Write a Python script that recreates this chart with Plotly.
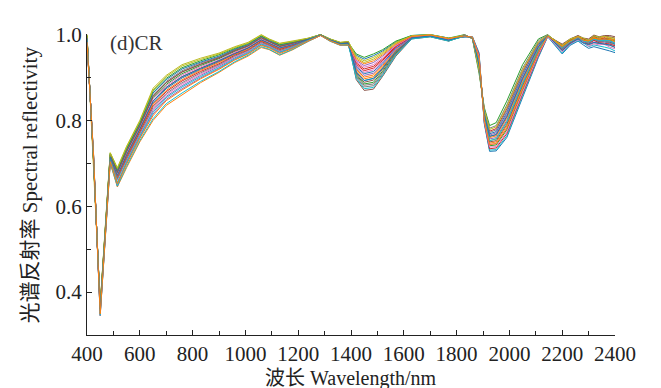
import plotly.graph_objects as go

wavelength = [400, 425, 450, 470, 488, 515, 550, 600, 650, 700, 760, 830, 900, 960, 1010,
              1060, 1090, 1130, 1180, 1240, 1285, 1320, 1360, 1390, 1420, 1450, 1485, 1520,
              1570, 1630, 1700, 1770, 1830, 1860, 1885, 1905, 1925, 1950, 1990, 2050, 2110,
              2145, 2200, 2230, 2260, 2280, 2300, 2320, 2340, 2360, 2380, 2400]

s01 = [.991,.709,.359,.547,.714,.670,.718,.778,.841,.874,.899,.919,.937,.955,.968,.987,.979,.967,.976,.989,.999,.988,.979,.980,
       .952,.943,.951,.962,.983,.998,1.0,.992,
       .995,.995,.958,.792,.728,.729,.760,.854,.947,.995,
       .955,.975,.985,.976,.968,.972,.969,.966,.962,.958]
s02 = [.980,.720,.345,.530,.700,.645,.690,.750,.800,.835,.860,.888,.912,.935,.950,.970,.965,.952,.965,.985,.998,.985,.975,.975,
       .919,.901,.906,.928,.964,.993,.997,.988,
       .997,.993,.943,.804,.747,.750,.787,.878,.961,.997,
       .969,.984,.993,.984,.982,.992,.985,.990,.983,.981]
s03 = [.994,.706,.363,.551,.718,.677,.725,.785,.853,.884,.909,.928,.944,.961,.972,.991,.983,.972,.979,.990,.999,.989,.980,.981,
       .955,.947,.955,.965,.985,.998,1.0,.992,
       1.0,.990,.910,.830,.788,.795,.845,.930,.990,1.0,
       .973,.987,.995,.991,.986,.996,.990,.992,.991,.988]
s04 = [.992,.708,.360,.548,.715,.672,.720,.780,.845,.877,.902,.922,.939,.957,.969,.988,.980,.969,.977,.989,.999,.988,.979,.980,
       .931,.916,.922,.940,.971,.995,.998,.989,
       .999,.991,.920,.822,.775,.781,.827,.914,.981,.999,
       .971,.986,.994,.990,.984,.995,.987,.993,.986,.985]
s05 = [.986,.714,.345,.539,.708,.647,.705,.765,.823,.856,.881,.905,.926,.946,.960,.979,.973,.960,.971,.987,.999,.987,.977,.978,
       .940,.928,.935,.950,.976,.996,.999,.990,
       .998,.993,.935,.810,.757,.760,.800,.890,.968,.998,
       .967,.983,.992,.987,.980,.986,.984,.987,.982,.978]
s06 = [.995,.705,.364,.553,.719,.679,.728,.788,.856,.888,.913,.931,.946,.963,.974,.993,.984,.973,.980,.990,1.0,.989,.980,.982,
       .895,.870,.873,.903,.950,.990,.995,.985,
       .998,.992,.930,.814,.763,.767,.809,.898,.972,.998,
       .976,.989,.997,.990,.988,.997,.993,.996,.995,.992]
s07 = [.993,.707,.361,.550,.716,.674,.723,.783,.849,.881,.906,.925,.941,.959,.971,.990,.981,.970,.978,.990,.999,.988,.980,.981,
       .928,.912,.918,.937,.969,.994,.998,.989,
       .997,.994,.945,.802,.744,.746,.782,.874,.959,.997,
       .964,.981,.990,.986,.978,.983,.981,.984,.978,.974]
s08 = [.996,.704,.365,.554,.720,.681,.730,.790,.860,.891,.916,.934,.948,.965,.976,.994,.985,.974,.981,.991,1.0,.989,.981,.982,
       .901,.878,.881,.909,.954,.991,.996,.986,
       1.0,.991,.915,.826,.782,.788,.836,.922,.986,1.0,
       .962,.980,.989,.980,.976,.981,.979,.977,.975,.971]
s09 = [1.0,.700,.370,.560,.725,.690,.740,.800,.875,.905,.930,.945,.957,.972,.982,1.0,.990,.980,.985,.992,1.0,.990,.982,.984,
       .946,.935,.943,.956,.980,.997,.999,.991,
       .997,.993,.938,.808,.753,.757,.796,.886,.965,.997,
       .969,.984,.993,.988,.982,.988,.986,.986,.985,.981]
s10 = [.981,.719,.346,.532,.701,.647,.693,.753,.804,.839,.864,.891,.914,.937,.952,.972,.966,.953,.966,.985,.998,.985,.975,.975,
       .913,.893,.898,.922,.961,.992,.997,.987,
       .996,.995,.955,.794,.731,.732,.764,.858,.950,.996,
       .957,.977,.986,.981,.972,.976,.974,.971,.968,.962]
s11 = [.997,.703,.366,.556,.721,.683,.733,.793,.864,.895,.920,.936,.950,.966,.977,.996,.986,.976,.982,.991,1.0,.989,.981,.983,
       .925,.909,.914,.934,.968,.994,.998,.989,
       .999,.992,.925,.818,.769,.774,.818,.906,.977,.999,
       .967,.983,.992,.983,.980,.990,.984,.983,.982,.978]
s12 = [.990,.710,.358,.545,.713,.668,.715,.775,.838,.870,.895,.917,.935,.954,.966,.985,.978,.966,.975,.989,.999,.988,.979,.980,
       .916,.897,.902,.925,.962,.993,.997,.987,
       .998,.992,.933,.812,.760,.764,.805,.894,.970,.998,
       .973,.987,.995,.987,.986,.993,.990,.996,.991,.988]
s13 = [.998,.702,.368,.557,.723,.686,.735,.795,.868,.898,.923,.939,.953,.968,.979,.997,.988,.977,.983,.991,1.0,.990,.981,.983,
       .907,.885,.889,.915,.957,.992,.996,.986,
       .996,.994,.948,.800,.741,.743,.778,.870,.956,.996,
       .971,.986,.994,.986,.984,.991,.988,.989,.988,.985]
s14 = [.989,.711,.356,.544,.711,.665,.713,.773,.834,.867,.892,.914,.932,.952,.964,.984,.976,.965,.974,.988,.999,.987,.978,.979,
       .934,.920,.926,.943,.973,.995,.998,.990,
       .996,.994,.953,.796,.734,.736,.769,.862,.952,.996,
       .964,.981,.990,.982,.978,.987,.981,.980,.978,.974]
s15 = [.984,.716,.350,.536,.705,.654,.700,.760,.815,.849,.874,.899,.921,.942,.956,.976,.970,.958,.969,.986,.998,.986,.976,.977,
       .922,.905,.910,.931,.966,.994,.997,.988,
       .998,.992,.928,.816,.766,.771,.814,.902,.974,.998,
       .969,.984,.993,.984,.982,.990,.986,.989,.985,.981]
s16 = [.995,.705,.364,.553,.719,.679,.728,.788,.856,.888,.913,.931,.946,.963,.974,.993,.984,.973,.980,.990,1.0,.989,.980,.982,
       .910,.889,.894,.919,.959,.992,.996,.987,
       .997,.993,.940,.806,.750,.753,.791,.882,.963,.997,
       .978,.990,.998,.992,.990,.999,.995,.998,.998,.995]
s17 = [.987,.713,.354,.541,.709,.661,.708,.768,.826,.860,.885,.908,.928,.948,.961,.981,.974,.962,.972,.987,.999,.987,.977,.978,
       .937,.924,.930,.946,.975,.996,.999,.990,
       .996,.994,.950,.798,.738,.739,.773,.866,.954,.996,
       .960,.978,.988,.983,.973,.979,.976,.978,.971,.967]
s18 = [.988,.712,.355,.542,.710,.663,.710,.770,.830,.863,.888,.911,.930,.950,.963,.982,.975,.963,.973,.988,.999,.987,.978,.979,
       .904,.882,.885,.912,.955,.991,.996,.986,
       .999,.991,.923,.820,.772,.778,.823,.910,.979,.999,
       .966,.984,.991,.986,.979,.989,.983,.986,.980,.977]
s19 = [.999,.701,.369,.559,.724,.688,.738,.798,.871,.902,.927,.942,.955,.970,.980,.999,.989,.979,.984,.992,1.0,.990,.982,.984,
       .949,.939,.947,.959,.982,.997,1.0,.991,
       .999,.991,.918,.824,.779,.785,.832,.918,.983,.999,
       .975,.990,.996,.992,.987,.997,.994,.996,.993,.991]
s20 = [.985,.715,.351,.538,.706,.656,.703,.763,.819,.853,.878,.902,.923,.944,.958,.978,.971,.959,.970,.987,.999,.986,.977,.977,
       .898,.874,.877,.906,.952,.990,.995,.985,
       .997,.993,.938,.808,.753,.757,.796,.886,.965,.997,
       .970,.983,.994,.985,.983,.989,.987,.986,.986,.980]
s21 = [.992,.708,.360,.548,.715,.672,.720,.780,.845,.877,.902,.921,.940,.956,.969,.988,.980,.969,.977,.989,.999,.988,.979,.980,
       .913,.893,.898,.922,.961,.992,.997,.987,
       .998,.992,.930,.814,.763,.767,.809,.898,.972,.998,
       .963,.979,.990,.981,.977,.982,.980,.978,.976,.970]
s22 = [.983,.717,.349,.535,.704,.652,.698,.758,.811,.846,.871,.897,.919,.941,.955,.975,.969,.956,.968,.986,.998,.986,.976,.976,
       .943,.932,.939,.953,.978,.996,.999,.991,
       .997,.994,.945,.802,.744,.746,.782,.874,.959,.997,
       .972,.985,.995,.987,.985,.992,.989,.990,.989,.984]

series = [s01, s02, s03, s04, s05, s06, s07, s08, s09, s10, s11,
          s12, s13, s14, s15, s16, s17, s18, s19, s20, s21, s22]
colors = ["#1f77b4", "#ff7f0e", "#2ca02c", "#d62728", "#9467bd", "#8c564b", "#e377c2",
          "#7f7f7f", "#bcbd22", "#17becf"]

x_ticks = [400, 600, 800, 1000, 1200, 1400, 1600, 1800, 2000, 2200, 2400]
y_ticks = [0.4, 0.6, 0.8, 1.0]
y_labels = ["0.4", "0.6", "0.8", "1.0"]

fig = go.Figure()
for i, s in enumerate(series):
    fig.add_trace(go.Scatter(x=wavelength, y=s, mode="lines",
                             line=dict(color=colors[i % len(colors)], width=1.0),
                             showlegend=False, hoverinfo="skip"))

FONT = "Liberation Serif, Times New Roman, Noto Sans CJK SC, serif"
fig.update_layout(
    width=653, height=380,
    margin=dict(l=79, r=46, t=26, b=53),
    paper_bgcolor="white", plot_bgcolor="white",
    font=dict(family=FONT, size=21, color="#222"),
    xaxis=dict(range=[400, 2400], tickvals=x_ticks, ticktext=[str(v) for v in x_ticks],
               showgrid=False, zeroline=False, showline=True, linecolor="#222", linewidth=1,
               ticks="inside", ticklen=5, tickcolor="#222",
               minor=dict(dtick=100, tick0=400, ticks="inside", ticklen=4, tickcolor="#222"),
               tickfont=dict(family=FONT, size=21)),
    yaxis=dict(range=[0.3, 1.0015], tickvals=y_ticks, ticktext=y_labels,
               showgrid=False, zeroline=False, showline=True, linecolor="#222", linewidth=1,
               ticks="inside", ticklen=5, tickcolor="#222",
               minor=dict(tickvals=[0.5, 0.7, 0.9], ticks="inside", ticklen=4, tickcolor="#222"),
               tickfont=dict(family=FONT, size=21)),
    annotations=[
        dict(text="(d)CR", x=478, y=0.981, xref="x", yref="y", xanchor="left", yanchor="middle",
             showarrow=False, font=dict(family=FONT, size=21, color="#333")),
        dict(text="波长 Wavelength/nm", x=0.5, y=-0.143, xref="paper", yref="paper",
             xanchor="center", yanchor="middle", showarrow=False,
             font=dict(family=FONT, size=20, color="#222")),
        dict(text="光谱反射率 Spectral reflectivity", x=-0.108, y=0.5, xref="paper", yref="paper",
             xanchor="center", yanchor="middle", textangle=-90, showarrow=False,
             font=dict(family=FONT, size=21, color="#222")),
    ],
)

fig.write_html("out.html")
